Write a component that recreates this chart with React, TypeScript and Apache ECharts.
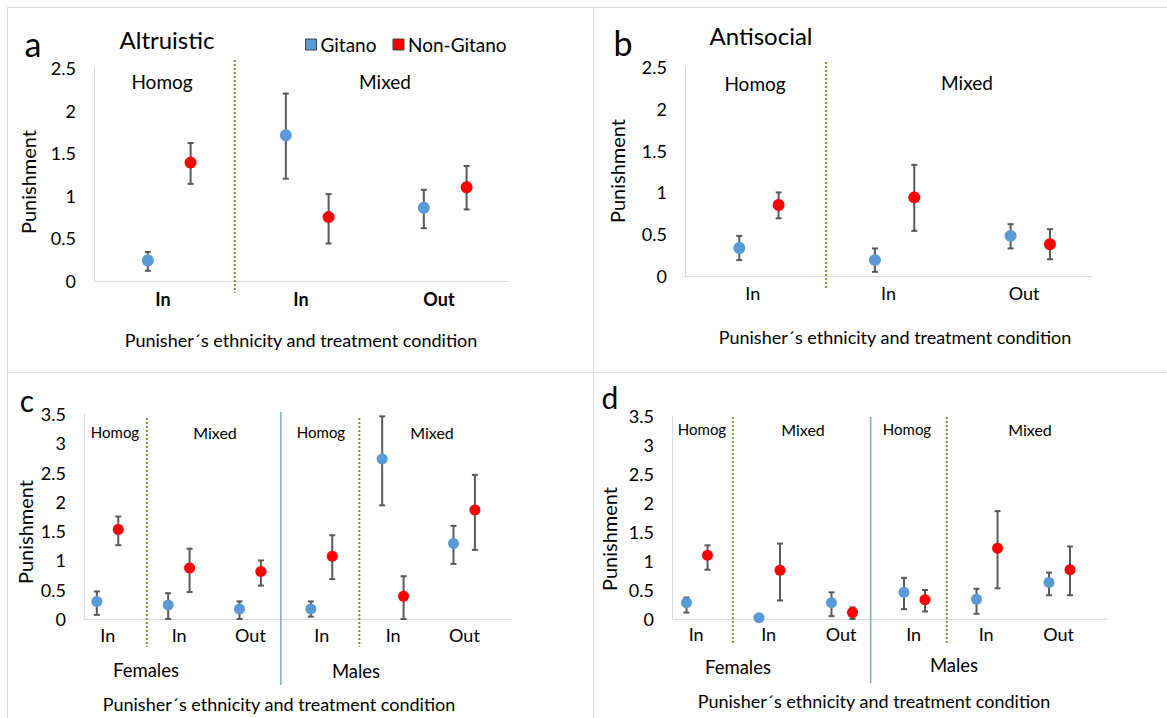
import React, { useEffect, useRef } from "react";
import * as echarts from "echarts";

// ---------- DATA ----------
const categoriesAB = ["In", "In", "Out"];
const categoriesCD = ["In", "In", "Out", "In", "In", "Out"];
const yTicksAB = { min: 0, max: 2.5, step: 0.5 };
const yTicksCD = { min: 0, max: 3.5, step: 0.5 };

// Panel a – Altruistic
const aGitano = [0.24, 1.71, 0.86];
const aGitanoLow = [0.12, 1.2, 0.62];
const aGitanoHigh = [0.34, 2.2, 1.07];
const aNonGitano = [1.39, 0.75, 1.1];
const aNonGitanoLow = [1.14, 0.44, 0.84];
const aNonGitanoHigh = [1.62, 1.02, 1.35];

// Panel b – Antisocial
const bGitano = [0.335, 0.19, 0.48];
const bGitanoLow = [0.19, 0.05, 0.33];
const bGitanoHigh = [0.48, 0.33, 0.62];
const bNonGitano = [0.85, 0.94, 0.38];
const bNonGitanoLow = [0.69, 0.54, 0.2];
const bNonGitanoHigh = [1.0, 1.33, 0.56];

// Panel c – Altruistic by sex
const cGitano = [0.3, 0.24, 0.17, 0.17, 2.73, 1.29];
const cGitanoLow = [0.07, 0.0, 0.0, 0.04, 1.94, 0.94];
const cGitanoHigh = [0.47, 0.44, 0.3, 0.3, 3.46, 1.59];
const cNonGitano = [1.53, 0.87, 0.81, 1.07, 0.39, 1.86];
const cNonGitanoLow = [1.26, 0.46, 0.57, 0.68, 0.0, 1.18];
const cNonGitanoHigh = [1.75, 1.2, 1.0, 1.43, 0.73, 2.46];

// Panel d – Antisocial by sex
const dGitano = [0.28, 0.02, 0.28, 0.46, 0.34, 0.63];
const dGitanoLow = [0.11, 0.02, 0.05, 0.17, 0.09, 0.41];
const dGitanoHigh = [0.37, 0.02, 0.46, 0.71, 0.52, 0.8];
const dNonGitano = [1.1, 0.84, 0.11, 0.33, 1.22, 0.85];
const dNonGitanoLow = [0.85, 0.32, 0.0, 0.13, 0.53, 0.41];
const dNonGitanoHigh = [1.27, 1.3, 0.2, 0.5, 1.86, 1.25];

const seriesNames = ["Gitano", "Non-Gitano"];
const axisTitle = "Punisher´s ethnicity and treatment condition";
const yName = "Punishment";

// ---------- STYLE / LAYOUT ----------
const FONT = "Lato, 'Noto Sans', sans-serif";
const BLUE = "#5B9BD5";
const RED = "#FF0000";
const ERR = "#595959";
const AXIS = "#d9d9d9";
const GREEN = "#6f9a36";
const SEP_BLUE = "#7ea6d8";

type Panel = {
  cats: string[];
  g: number[]; gl: number[]; gh: number[];
  n: number[]; nl: number[]; nh: number[];
  ticks: { min: number; max: number; step: number };
  grid: { left: number; top: number; width: number; height: number };
  unitsPerBand: number;
  gOff: number; nOff: number;
  sym: number;
  bold: boolean;
  labelMargin: number;
  dividers: { x: number; up: number; down: number; color: string; dotted: boolean }[];
};

const panels: Panel[] = [
  {
    cats: categoriesAB, g: aGitano, gl: aGitanoLow, gh: aGitanoHigh,
    n: aNonGitano, nl: aNonGitanoLow, nh: aNonGitanoHigh, ticks: yTicksAB,
    grid: { left: 94, top: 68, width: 414, height: 213 },
    unitsPerBand: 2, gOff: 0.39, nOff: 0.7, sym: 12, bold: true, labelMargin: 9,
    dividers: [{ x: 1.02, up: 8, down: 12, color: GREEN, dotted: true }],
  },
  {
    cats: categoriesAB, g: bGitano, gl: bGitanoLow, gh: bGitanoHigh,
    n: bNonGitano, nl: bNonGitanoLow, nh: bNonGitanoHigh, ticks: yTicksAB,
    grid: { left: 685, top: 67, width: 407, height: 209 },
    unitsPerBand: 2, gOff: 0.4, nOff: 0.69, sym: 12, bold: false, labelMargin: 8,
    dividers: [{ x: 1.04, up: 5, down: 12, color: GREEN, dotted: true }],
  },
  {
    cats: categoriesCD, g: cGitano, gl: cGitanoLow, gh: cGitanoHigh,
    n: cNonGitano, nl: cNonGitanoLow, nh: cNonGitanoHigh, ticks: yTicksCD,
    grid: { left: 84, top: 414, width: 428, height: 205 },
    unitsPerBand: 3, gOff: 0.18, nOff: 0.48, sym: 11, bold: false, labelMargin: 7,
    dividers: [
      { x: 0.88, up: -4, down: 28, color: GREEN, dotted: true },
      { x: 2.76, up: 2, down: 66, color: SEP_BLUE, dotted: false },
      { x: 3.86, up: -4, down: 28, color: GREEN, dotted: true },
    ],
  },
  {
    cats: categoriesCD, g: dGitano, gl: dGitanoLow, gh: dGitanoHigh,
    n: dNonGitano, nl: dNonGitanoLow, nh: dNonGitanoHigh, ticks: yTicksCD,
    grid: { left: 672, top: 416, width: 435, height: 203 },
    unitsPerBand: 3, gOff: 0.2, nOff: 0.49, sym: 11, bold: false, labelMargin: 6,
    dividers: [
      { x: 0.84, up: -1, down: 24, color: GREEN, dotted: true },
      { x: 2.74, up: -1, down: 64, color: SEP_BLUE, dotted: false },
      { x: 3.79, up: -1, down: 24, color: GREEN, dotted: true },
    ],
  },
];

function txt(text: string, x: number, y: number, size: number, extra: any = {}) {
  return {
    type: "text",
    x,
    y,
    rotation: extra.rotation || 0,
    silent: true,
    style: {
      text,
      fontSize: size,
      fontFamily: FONT,
      fontWeight: extra.bold ? "bold" : "normal",
      fill: "#000",
      align: extra.align || "center",
      verticalAlign: "middle",
    },
  };
}

function buildOption() {
  const grids: any[] = [];
  const xAxes: any[] = [];
  const yAxes: any[] = [];
  const series: any[] = [];

  panels.forEach((p, pi) => {
    const U = p.unitsPerBand;
    grids.push({ ...p.grid, containLabel: false });
    xAxes.push({
      type: "value",
      gridIndex: pi,
      min: 0,
      max: p.cats.length * U,
      interval: 1,
      axisLine: { show: true, lineStyle: { color: AXIS, width: 1 } },
      axisTick: { show: false },
      splitLine: { show: false },
      axisLabel: {
        margin: p.labelMargin,
        fontSize: 18,
        fontFamily: FONT,
        fontWeight: p.bold ? "bold" : "normal",
        color: "#000",
        showMinLabel: false,
        showMaxLabel: false,
        formatter: (v: number) => {
          const r = Math.round(v);
          return r % U === 1 ? p.cats[(r - 1) / U] : "";
        },
      },
    });
    yAxes.push({
      type: "value",
      gridIndex: pi,
      min: p.ticks.min,
      max: p.ticks.max,
      interval: p.ticks.step,
      axisLine: { show: true, lineStyle: { color: AXIS, width: 1 } },
      axisTick: { show: false },
      splitLine: { show: false },
      axisLabel: { margin: 18, fontSize: 18, fontFamily: FONT, color: "#000" },
    });

    // dividers
    series.push({
      type: "custom",
      xAxisIndex: pi,
      yAxisIndex: pi,
      silent: true,
      z: 1,
      data: p.dividers.map((d) => [d.x * U, 0]),
      encode: { x: 0, y: 1 },
      renderItem: (params: any, api: any) => {
        const d = p.dividers[params.dataIndex];
        const base = api.coord([api.value(0), p.ticks.min]);
        const top = api.coord([api.value(0), p.ticks.max]);
        return {
          type: "line",
          shape: { x1: base[0], y1: top[1] - d.up, x2: base[0], y2: base[1] + d.down },
          style: {
            stroke: d.color,
            lineWidth: d.dotted ? 2 : 1.5,
            lineDash: d.dotted ? [2, 2] : null,
          },
        };
      },
    });

    const groups = [
      { name: seriesNames[0], v: p.g, lo: p.gl, hi: p.gh, off: p.gOff, color: BLUE },
      { name: seriesNames[1], v: p.n, lo: p.nl, hi: p.nh, off: p.nOff, color: RED },
    ];
    groups.forEach((gr) => {
      series.push({
        type: "custom",
        xAxisIndex: pi,
        yAxisIndex: pi,
        silent: true,
        z: 2,
        data: gr.v.map((_, i) => [(i + gr.off) * U, gr.lo[i], gr.hi[i]]),
        encode: { x: 0, y: [1, 2] },
        renderItem: (params: any, api: any) => {
          const x = api.value(0);
          const lo = api.value(1);
          const hi = api.value(2);
          if (hi - lo < 1e-6) return { type: "group", children: [] };
          const a = api.coord([x, lo]);
          const b = api.coord([x, hi]);
          const c = 3;
          const st = { stroke: ERR, lineWidth: 2 };
          return {
            type: "group",
            children: [
              { type: "line", shape: { x1: a[0], y1: a[1], x2: b[0], y2: b[1] }, style: st },
              { type: "line", shape: { x1: a[0] - c, y1: a[1], x2: a[0] + c, y2: a[1] }, style: st },
              { type: "line", shape: { x1: b[0] - c, y1: b[1], x2: b[0] + c, y2: b[1] }, style: st },
            ],
          };
        },
      });
      series.push({
        type: "scatter",
        name: gr.name,
        xAxisIndex: pi,
        yAxisIndex: pi,
        z: 3,
        symbol: "circle",
        symbolSize: p.sym,
        itemStyle: { color: gr.color, opacity: 1 },
        data: gr.v.map((v, i) => [(i + gr.off) * U, v]),
      });
    });
  });

  const frameStyle = { stroke: "#dcdcdc", lineWidth: 1 };
  const graphic: any[] = [
    { type: "line", silent: true, shape: { x1: 7, y1: 7.5, x2: 1167, y2: 7.5 }, style: frameStyle },
    { type: "line", silent: true, shape: { x1: 7, y1: 372.5, x2: 1167, y2: 372.5 }, style: frameStyle },
    { type: "line", silent: true, shape: { x1: 7.5, y1: 7, x2: 7.5, y2: 718 }, style: frameStyle },
    { type: "line", silent: true, shape: { x1: 593.5, y1: 7, x2: 593.5, y2: 718 }, style: frameStyle },
    // panel letters & titles
    txt("a", 33, 43, 34),
    txt("Altruistic", 167, 39, 24),
    txt("b", 623, 42, 34),
    txt("Antisocial", 761, 35, 24),
    txt("c", 27, 400, 30),
    txt("d", 610, 397, 30),
    // y names
    txt(yName, 28, 182, 20, { rotation: Math.PI / 2 }),
    txt(yName, 617, 171, 20, { rotation: Math.PI / 2 }),
    txt(yName, 25, 532, 20, { rotation: Math.PI / 2 }),
    txt(yName, 609, 539, 20, { rotation: Math.PI / 2 }),
    // x titles
    txt(axisTitle, 301, 340, 18),
    txt(axisTitle, 895, 337, 18),
    txt(axisTitle, 279, 704, 18),
    txt(axisTitle, 874, 701, 18),
    // group labels
    txt("Homog", 162, 81, 19),
    txt("Mixed", 385, 81, 19),
    txt("Homog", 755, 83, 19),
    txt("Mixed", 967, 82, 19),
    txt("Homog", 115, 432, 15),
    txt("Mixed", 215, 432, 16),
    txt("Homog", 321, 432, 15),
    txt("Mixed", 432, 432, 16),
    txt("Homog", 702, 429, 15),
    txt("Mixed", 803, 429, 16),
    txt("Homog", 907, 429, 15),
    txt("Mixed", 1030, 429, 16),
    txt("Females", 146, 670, 18.5),
    txt("Males", 356, 671, 18.5),
    txt("Females", 738, 667, 18.5),
    txt("Males", 954, 665, 18.5),
  ];

  return {
    animation: false,
    backgroundColor: "#ffffff",
    textStyle: { fontFamily: FONT },
    legend: {
      data: seriesNames,
      left: 300,
      top: 30,
      icon: "rect",
      itemWidth: 11,
      itemHeight: 11,
      itemGap: 16,
      selectedMode: false,
      itemStyle: { borderColor: "#404040", borderWidth: 1 },
      textStyle: { fontSize: 19, fontFamily: FONT, color: "#000", padding: [0, 0, 0, -1] },
    },
    grid: grids,
    xAxis: xAxes,
    yAxis: yAxes,
    series,
    graphic,
  };
}

export default function App() {
  const ref = useRef<HTMLDivElement>(null);
  useEffect(() => {
    if (!ref.current) return;
    const chart = echarts.init(ref.current, null, { renderer: "svg" });
    chart.setOption(buildOption() as any);
    return () => chart.dispose();
  }, []);
  return (
    <div
      ref={ref}
      style={{ position: "fixed", left: 0, top: 0, width: 1167, height: 718, background: "#fff" }}
    />
  );
}
